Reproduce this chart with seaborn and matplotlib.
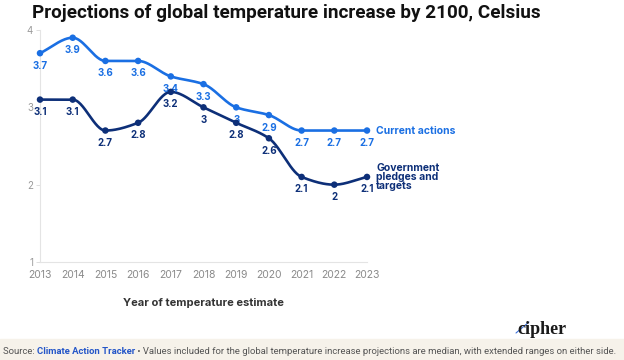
import numpy as np
import pandas as pd
import seaborn as sns
import matplotlib.pyplot as plt

# Data
years = [2013, 2014, 2015, 2016, 2017, 2018, 2019, 2020, 2021, 2022, 2023]
current_actions = [3.7, 3.9, 3.6, 3.6, 3.4, 3.3, 3.0, 2.9, 2.7, 2.7, 2.7]
pledges_targets = [3.1, 3.1, 2.7, 2.8, 3.2, 3.0, 2.8, 2.6, 2.1, 2.0, 2.1]
series_names = ["Current actions", "Government\npledges and\ntargets"]
y_ticks = [1, 2, 3, 4]

colors = ["#1a6fe3", "#0d2f78"]


def monotone_curve(x, y, n=30):
    # monotone cubic (Fritsch-Carlson) just for drawing the smooth line
    x = np.asarray(x, float)
    y = np.asarray(y, float)
    h = np.diff(x)
    d = np.diff(y) / h
    m = np.zeros_like(y)
    m[0], m[-1] = d[0], d[-1]
    for i in range(1, len(y) - 1):
        if d[i - 1] * d[i] <= 0:
            m[i] = 0
        else:
            m[i] = 3 * (h[i - 1] + h[i]) / ((2 * h[i] + h[i - 1]) / d[i - 1] + (h[i] + 2 * h[i - 1]) / d[i])
    xs, ys = [], []
    for i in range(len(x) - 1):
        t = np.linspace(0, 1, n)
        h00 = 2 * t**3 - 3 * t**2 + 1
        h10 = t**3 - 2 * t**2 + t
        h01 = -2 * t**3 + 3 * t**2
        h11 = t**3 - t**2
        xs.append(x[i] + t * h[i])
        ys.append(h00 * y[i] + h10 * h[i] * m[i] + h01 * y[i + 1] + h11 * h[i] * m[i + 1])
    return np.concatenate(xs), np.concatenate(ys)


df = pd.DataFrame({
    "year": years * 2,
    "value": current_actions + pledges_targets,
    "series": [series_names[0]] * len(years) + [series_names[1]] * len(years),
})

sns.set_theme(style="white")
plt.rcParams["font.family"] = ["Inter", "DejaVu Sans"]

fig = plt.figure(figsize=(6.24, 3.6), dpi=100)
ax = fig.add_axes([40 / 624, 1 - 262 / 360, 327 / 624, 232 / 360])

for name, col in zip(series_names, colors):
    sub = df[df["series"] == name]
    cx, cy = monotone_curve(sub["year"], sub["value"])
    ax.plot(cx, cy, color=col, lw=1.9, solid_capstyle="round", clip_on=False, zorder=3)

sns.scatterplot(data=df, x="year", y="value", hue="series", palette=colors,
                s=22, edgecolor="none", legend=False, ax=ax, zorder=4, clip_on=False)

# value labels under each point
for name, col in zip(series_names, colors):
    sub = df[df["series"] == name]
    for xv, yv in zip(sub["year"], sub["value"]):
        ax.annotate(f"{yv:g}", (xv, yv), xytext=(0, -9), textcoords="offset points",
                    ha="center", va="center", fontsize=7, fontweight="bold", color=col)
    # series label at end of line
    ax.annotate(name, (years[-1], sub["value"].iloc[-1]), xytext=(6.5, 0),
                textcoords="offset points", ha="left", va="center",
                fontsize=7.5, fontweight="bold", color=col, linespacing=0.85,
                annotation_clip=False)

ax.set_xlim(years[0], years[-1])
ax.set_ylim(1, 4)
ax.set_xticks(years)
ax.set_yticks(y_ticks)
ax.tick_params(axis="x", length=0, labelsize=7.5, labelcolor="#8a8a8a", pad=6)
ax.tick_params(axis="y", length=3, width=0.6, color="#d8d8d8", labelsize=7,
               labelcolor="#9a9a9a", pad=2, left=True)
for s in ["top", "right"]:
    ax.spines[s].set_visible(False)
for s in ["left", "bottom"]:
    ax.spines[s].set_color("#e4e4e4")
    ax.spines[s].set_linewidth(0.8)
ax.set_xlabel("Year of temperature estimate", fontsize=8, fontweight="bold",
              color="#333333", labelpad=13)
ax.set_ylabel("")

fig.text(32 / 624, 1 - 13 / 360, "Projections of global temperature increase by 2100, Celsius",
         fontsize=13.6, fontweight="bold", color="#111111", ha="left", va="center",
         family=["Roboto", "DejaVu Sans"])

# footer band
fig.patches.append(plt.Rectangle((0, 0), 1, 21 / 360, transform=fig.transFigure,
                                 color="#f6f2ea", zorder=0))
foot_font = dict(fontsize=6.8, va="center", ha="left", family=["Roboto", "DejaVu Sans"])
t1 = fig.text(3 / 624, 9 / 360, "Source: ", color="#555555", **foot_font)
fig.canvas.draw()
r = fig.canvas.get_renderer()
bb = t1.get_window_extent(r)
t2 = fig.text(bb.x1 / 624, 9 / 360, "Climate Action Tracker", color="#2456c8",
              fontweight="bold", **foot_font)
bb = t2.get_window_extent(r)
fig.text(bb.x1 / 624, 9 / 360,
         " \u2022 Values included for the global temperature increase projections are median, with extended ranges on either side.",
         color="#555555", **foot_font)

# logo
fig.text(542 / 624, 1 - 330 / 360, "cipher", fontsize=13, fontweight="bold", color="#1a1a1a",
         ha="center", va="center", family=["Liberation Serif", "DejaVu Serif"])
fig.add_artist(plt.Line2D([516 / 624, 529 / 624], [1 - 333 / 360, 1 - 322 / 360],
                          color="#3a6fd8", lw=0.8))

fig.savefig("out.png", dpi=100)
